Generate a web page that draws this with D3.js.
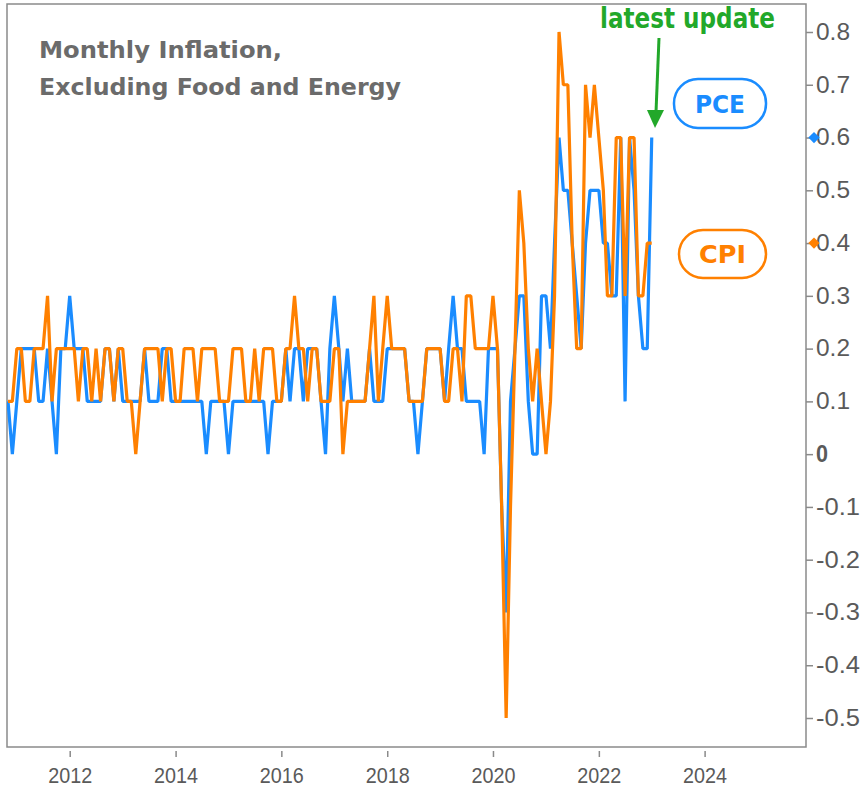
<!DOCTYPE html>
<html>
<head>
<meta charset="utf-8">
<script src="https://cdn.jsdelivr.net/npm/d3@7"></script>
<style>
  body { margin: 0; background: #fff; }
  svg { display: block; }
</style>
</head>
<body>
<div id="chart"></div>
<script>
// Monthly % change, Nov 2010 .. Jan 2023 (one value per month)
const firstMonth = [2010, 10]; // year, month index (Nov)
const cpiValues = [
  0.1, 0.1, 0.2, 0.2, 0.1, 0.1, 0.2, 0.2, 0.2, 0.3, 0.1, 0.2, 0.2, 0.2,
  0.2, 0.2, 0.1, 0.2, 0.2, 0.1, 0.2, 0.1, 0.2, 0.2, 0.1, 0.2, 0.2, 0.1,
  0.1, 0.0, 0.1, 0.2, 0.2, 0.2, 0.2, 0.1, 0.2, 0.2, 0.1, 0.1, 0.2, 0.2,
  0.2, 0.1, 0.2, 0.2, 0.2, 0.2, 0.1, 0.1, 0.1, 0.2, 0.2, 0.2, 0.1, 0.1,
  0.2, 0.1, 0.2, 0.2, 0.2, 0.1, 0.1, 0.2, 0.2, 0.3, 0.2, 0.2, 0.1, 0.2,
  0.2, 0.1, 0.1, 0.1, 0.2, 0.2, 0.0, 0.1, 0.1, 0.1, 0.1, 0.1, 0.2, 0.3,
  0.1, 0.2, 0.3, 0.2, 0.2, 0.2, 0.2, 0.1, 0.1, 0.1, 0.1, 0.2, 0.2, 0.2,
  0.2, 0.1, 0.1, 0.2, 0.2, 0.1, 0.3, 0.3, 0.2, 0.2, 0.2, 0.2, 0.3,
  0.2, -0.1, -0.5, -0.1, 0.2, 0.5, 0.4, 0.2, 0.1, 0.2, 0.1, 0.0, 0.1, 0.3,
  0.8, 0.7, 0.7, 0.4, 0.2, 0.2, 0.7, 0.6, 0.7, 0.6, 0.5, 0.3, 0.3, 0.6,
  0.6, 0.3, 0.6, 0.6, 0.3, 0.3, 0.4, 0.4
];
const pceValues = [
  0.1, 0.0, 0.1, 0.2, 0.2, 0.2, 0.2, 0.1, 0.1, 0.2, 0.1, 0.0, 0.2, 0.2,
  0.3, 0.2, 0.2, 0.2, 0.1, 0.1, 0.1, 0.1, 0.2, 0.2, 0.1, 0.2, 0.1, 0.1,
  0.1, 0.1, 0.1, 0.2, 0.1, 0.1, 0.1, 0.2, 0.2, 0.1, 0.1, 0.1, 0.1, 0.1,
  0.1, 0.1, 0.1, 0.0, 0.1, 0.1, 0.1, 0.1, 0.0, 0.1, 0.1, 0.1, 0.1, 0.1,
  0.1, 0.1, 0.1, 0.0, 0.1, 0.1, 0.1, 0.2, 0.1, 0.2, 0.2, 0.1, 0.2, 0.2,
  0.2, 0.1, 0.0, 0.2, 0.3, 0.2, 0.1, 0.2, 0.1, 0.1, 0.1, 0.1, 0.2, 0.1,
  0.1, 0.1, 0.2, 0.2, 0.2, 0.2, 0.2, 0.1, 0.1, 0.0, 0.1, 0.2, 0.2, 0.2,
  0.2, 0.1, 0.2, 0.3, 0.2, 0.2, 0.1, 0.1, 0.1, 0.1, 0.0, 0.2, 0.2,
  0.2, -0.1, -0.3, 0.1, 0.2, 0.3, 0.3, 0.1, 0.0, 0.0, 0.3, 0.3, 0.2, 0.4,
  0.6, 0.5, 0.5, 0.4, 0.3, 0.2, 0.4, 0.5, 0.5, 0.5, 0.4, 0.4, 0.3, 0.3,
  0.6, 0.1, 0.6, 0.5, 0.3, 0.2, 0.2, 0.6
];
const yTicks = [0.8, 0.7, 0.6, 0.5, 0.4, 0.3, 0.2, 0.1, 0, -0.1, -0.2, -0.3, -0.4, -0.5];
const yearTicks = [2012, 2014, 2016, 2018, 2020, 2022, 2024];
const titleLines = ["Monthly Inflation,", "Excluding Food and Energy"];

const pceColor = "#1a8cff";
const cpiColor = "#ff8000";
const noteColor = "#22a82a";
const axisColor = "#8a8a8a";
const textColor = "#5a5a5a";

const W = 863, H = 789;
const frame = { left: 7, top: 4, right: 806, bottom: 747 };

const svg = d3.select("#chart")
  .append("svg")
    .attr("width", W)
    .attr("height", H)
    .style("font-family", "Tahoma, 'DejaVu Sans', sans-serif");

const monthDate = i => new Date(firstMonth[0], firstMonth[1] + i, 1);

// scales
const x = d3.scaleTime()
  .domain([monthDate(0), new Date(2025, 11, 1)])
  .range([8, frame.right]);

const y = d3.scaleLinear()
  .domain([-0.5, 0.8])
  .range([718, 32]);

// plot frame
svg.append("defs").append("clipPath").attr("id", "plot-clip")
  .append("rect")
    .attr("x", frame.left)
    .attr("y", frame.top)
    .attr("width", frame.right - frame.left)
    .attr("height", frame.bottom - frame.top);

svg.append("rect")
  .attr("x", frame.left)
  .attr("y", frame.top)
  .attr("width", frame.right - frame.left)
  .attr("height", frame.bottom - frame.top)
  .attr("fill", "none")
  .attr("stroke", axisColor)
  .attr("stroke-width", 1.5);

// right axis
const yAxis = svg.append("g")
  .attr("transform", `translate(${frame.right},0)`)
  .call(d3.axisRight(y)
    .tickValues(yTicks)
    .tickSize(7)
    .tickPadding(3)
    .tickFormat(d => d === 0 ? "0" : d3.format(".1f")(d).replace("−", "-")));
yAxis.select(".domain").remove();
yAxis.selectAll("line").attr("stroke", axisColor).attr("stroke-width", 1.5);
yAxis.selectAll("text")
  .attr("fill", textColor)
  .style("font-size", "23px")
  .attr("textLength", d => d === 0 ? 12 : (d < 0 ? 44 : 34))
  .attr("lengthAdjust", "spacingAndGlyphs")
  .style("font-weight", d => d === 0 ? "bold" : "normal");

// bottom axis
const xAxis = svg.append("g")
  .attr("transform", `translate(0,${frame.bottom + 4})`)
  .call(d3.axisBottom(x)
    .tickValues(yearTicks.map(yr => new Date(yr, 0, 1)))
    .tickSize(6)
    .tickPadding(10)
    .tickFormat(d3.timeFormat("%Y")));
xAxis.select(".domain").remove();
xAxis.selectAll("line").attr("stroke", axisColor).attr("stroke-width", 1.5);
xAxis.selectAll("text")
  .attr("fill", textColor)
  .style("font-size", "22px")
  .attr("textLength", 44)
  .attr("lengthAdjust", "spacingAndGlyphs");

// series lines
const line = d3.line()
  .x((d, i) => x(monthDate(i)))
  .y(d => y(d));

const plot = svg.append("g").attr("clip-path", "url(#plot-clip)");

plot.append("path")
  .datum(pceValues)
  .attr("fill", "none")
  .attr("stroke", pceColor)
  .attr("stroke-width", 3.2)
  .attr("stroke-linejoin", "bevel")
  .attr("d", line);

plot.append("path")
  .datum(cpiValues)
  .attr("fill", "none")
  .attr("stroke", cpiColor)
  .attr("stroke-width", 3.2)
  .attr("stroke-linejoin", "bevel")
  .attr("d", line);

// latest value markers on the axis
const lastMarks = [
  { value: pceValues[pceValues.length - 1], color: pceColor },
  { value: cpiValues[cpiValues.length - 1], color: cpiColor }
];
svg.selectAll(".last-mark")
  .data(lastMarks)
  .enter().append("path")
    .attr("class", "last-mark")
    .attr("d", d3.symbol(d3.symbolSquare, 64))
    .attr("transform", d => `translate(${frame.right + 8},${y(d.value)}) rotate(45)`)
    .attr("fill", d => d.color);

// title
svg.selectAll(".title")
  .data(titleLines)
  .enter().append("text")
    .attr("class", "title")
    .attr("x", 39)
    .attr("y", (d, i) => 58 + i * 37)
    .attr("fill", "#6b6b6b")
    .style("font-size", "23px")
    .style("font-weight", "bold")
    .attr("textLength", (d, i) => i === 0 ? 243 : 362)
    .attr("lengthAdjust", "spacingAndGlyphs")
    .text(d => d);

// legend pills
const legend = [
  { label: "PCE", color: pceColor, x: 674, y: 79, w: 92, h: 49, tw: 50 },
  { label: "CPI", color: cpiColor, x: 679, y: 230, w: 87, h: 48, tw: 47 }
];
const pills = svg.selectAll(".pill")
  .data(legend)
  .enter().append("g")
    .attr("class", "pill");
pills.append("rect")
  .attr("x", d => d.x)
  .attr("y", d => d.y)
  .attr("width", d => d.w)
  .attr("height", d => d.h)
  .attr("rx", 24)
  .attr("fill", "#fff")
  .attr("stroke", d => d.color)
  .attr("stroke-width", 2.5);
pills.append("text")
  .attr("x", d => d.x + d.w / 2)
  .attr("y", d => d.y + d.h / 2 + 9)
  .attr("text-anchor", "middle")
  .attr("fill", d => d.color)
  .style("font-size", "25px")
  .style("font-weight", "bold")
  .attr("textLength", d => d.tw)
  .attr("lengthAdjust", "spacingAndGlyphs")
  .text(d => d.label);

// "latest update" note with arrow
svg.append("text")
  .attr("x", 600)
  .attr("y", 28)
  .attr("fill", noteColor)
  .style("font-size", "28px")
  .style("font-weight", "bold")
  .attr("textLength", 175)
  .attr("lengthAdjust", "spacingAndGlyphs")
  .text("latest update");

svg.append("line")
  .attr("x1", 659).attr("y1", 38)
  .attr("x2", 656).attr("y2", 112)
  .attr("stroke", noteColor)
  .attr("stroke-width", 3);

svg.append("path")
  .attr("d", "M647,110 L664,110 L655,128 Z")
  .attr("fill", noteColor);
</script>
</body>
</html>
